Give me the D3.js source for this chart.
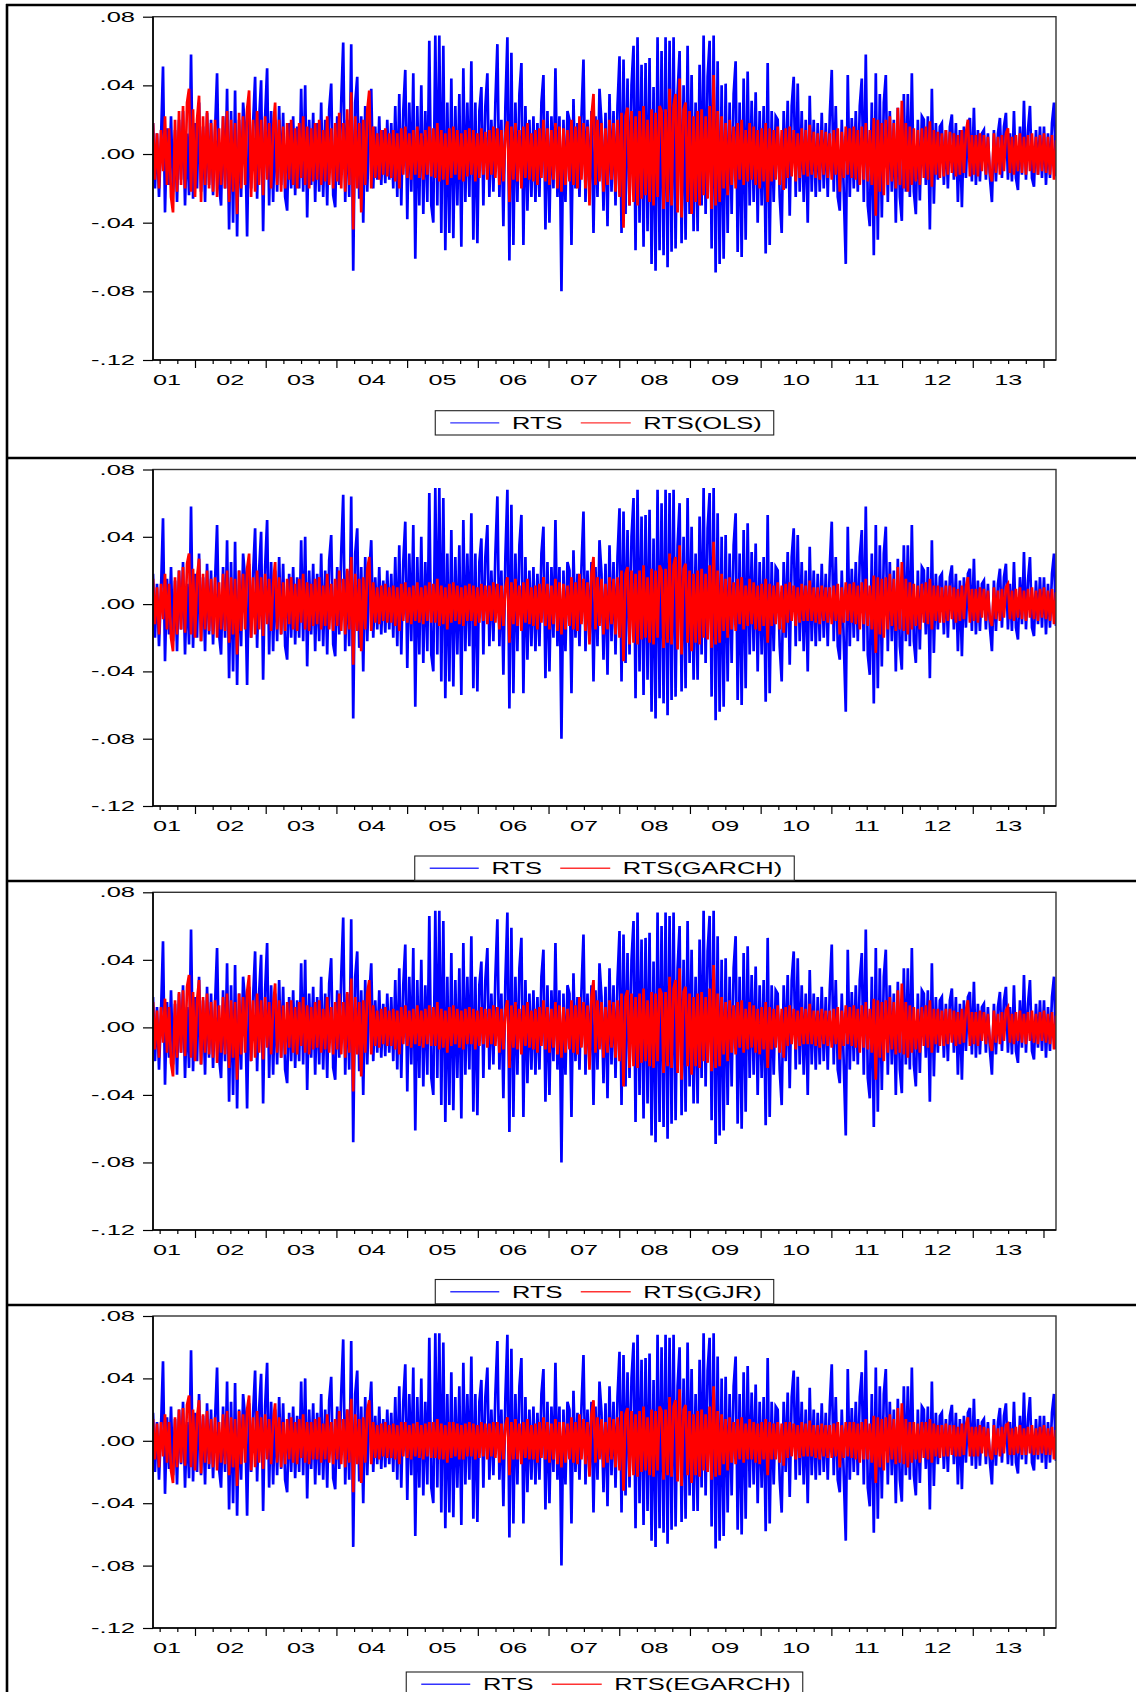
<!DOCTYPE html>
<html><head><meta charset="utf-8">
<script src="https://cdn.jsdelivr.net/npm/d3@7"></script>
<style>body{margin:0;background:#fff}svg{display:block}</style>
</head><body>
<svg id="c" width="1136" height="1692"></svg>
<script>
// Daily RTS returns and fitted series, values in thousandths (0.001)
const RTS = [
18,-20,12,-25,8,51,-34,15,-18,22,
-22,14,-28,20,-15,25,-30,12,-24,58,
-26,18,-20,30,-22,16,-28,24,-18,20,
-24,14,47,-18,-30,22,-20,38,-44,25,
-40,37,-48,20,-25,30,15,-48,24,-20,
18,45,-26,20,43,-45,22,50,-30,25,
-28,20,-22,28,-18,24,-25,-33,18,-20,
22,-24,16,-20,38,-22,40,-37,20,-18,
24,-28,18,-22,30,-25,20,-30,26,41,
-24,-31,22,-18,30,65,-28,20,-25,64,
-68,30,45,-26,22,-40,28,-22,18,38,
-20,16,-15,22,-18,14,-17,20,-15,18,
-20,28,-25,35,-30,25,49,-38,30,-22,
47,-61,28,-30,40,-35,25,-28,66,-30,
-40,69,-30,69,-46,63,-56,30,-46,44,
-49,28,-30,35,-54,50,-28,30,-25,54,
-50,30,-52,25,39,-30,28,47,-25,20,
-22,30,64,-25,20,-42,28,68,-62,59,
-53,30,-28,35,53,-53,28,-33,20,-25,
22,-28,18,-25,30,46,-44,25,-40,22,
-20,50,-25,22,-80,20,-28,25,20,-53,
32,-20,18,-25,22,55,-28,20,-22,25,
-46,22,-25,38,18,-33,24,-42,35,-22,
25,-30,28,57,-46,55,-35,44,-30,40,
63,-56,68,-40,52,-54,53,-45,56,-64,
39,-68,68,-56,60,-59,68,-66,66,-57,
68,-55,35,60,-52,40,-50,63,-35,46,
-45,30,-45,52,-30,69,-35,45,66,-55,
69,-69,54,-64,40,-61,41,-46,30,-35,
35,54,-57,30,-60,44,-50,48,-30,31,
-28,36,-40,25,-30,28,-58,53,-53,25,
-28,22,20,-25,-46,25,-20,31,-36,28,
45,-25,41,-22,25,-28,20,-40,34,-22,
20,-25,18,-22,24,-20,18,-25,22,49,
-22,28,-25,-33,20,-22,-64,46,-25,21,
-20,25,-22,28,44,-28,58,-30,-42,30,
-59,47,-50,35,-37,30,46,-28,25,-22,
20,-40,27,-25,-39,35,-22,35,-25,47,
-22,-35,20,-27,22,20,-18,22,-44,38,
-29,18,-15,16,18,-18,14,-20,16,23,
-15,18,-28,14,-31,16,-14,18,21,-16,
27,-18,14,-16,12,14,-15,12,-14,-28,
14,-16,12,21,-14,16,24,-15,12,-16,
25,-14,-21,16,-12,31,-15,14,28,-14,
-19,14,-12,16,-14,16,-18,12,-14,18,
30,-13];

const RTS_OLS = [
18,-15,12,-20,14,-10,22,-18,15,-25,
-34,20,-22,25,-18,28,-20,30,38,-22,
26,-25,20,34,-28,22,-18,25,-20,18,
-22,20,-25,15,-18,22,-20,25,-28,20,
-22,18,-35,24,-20,22,-18,26,37,-25,
20,-22,25,-18,20,-24,22,-15,18,-20,
15,30,-18,20,-22,16,-20,18,-15,20,
-18,15,-20,18,-14,22,-18,16,-20,15,
-16,18,-15,20,-18,14,-16,22,-18,15,
-20,18,-16,24,-20,18,-22,26,-18,36,
-44,22,-20,18,-34,20,-18,25,37,-20,
16,-14,12,-15,14,-12,15,-13,12,-14,
14,-16,12,-20,15,-12,16,-14,12,-15,
14,-12,16,-14,12,-15,14,-12,16,-13,
15,-14,18,-16,14,-15,12,-18,15,-14,
16,-12,14,-15,12,-16,14,-13,15,-12,
14,-16,12,-14,15,-12,13,-15,14,-12,
16,-14,15,-18,14,-16,12,19,-28,16,
-15,18,-16,14,-20,16,-14,18,-15,12,
-16,14,-18,15,-14,20,-16,15,-18,14,
-15,18,-20,16,-22,15,-18,14,-16,20,
-18,16,-20,22,-15,18,-20,16,-30,22,
35,-18,20,-16,18,-22,15,-18,20,-15,
18,-22,20,-25,24,-43,22,27,-30,25,
-28,22,-30,25,-26,28,-24,20,-28,26,
-30,24,-25,28,25,-32,26,-28,38,-30,
28,35,-34,44,-37,26,30,-28,25,-35,
22,-28,25,-30,26,-24,22,-26,28,-32,
46,-30,25,-28,22,-20,18,-24,20,-18,
16,-20,18,-15,20,-18,14,-16,18,-15,
16,-18,14,-20,15,-16,18,-28,15,-16,
14,-15,16,-18,14,-21,15,-14,16,-13,
14,-16,12,-14,15,-12,14,-13,17,-12,
13,-14,12,-15,14,-12,13,-14,12,-15,
14,-12,15,-22,13,-14,16,-12,15,-14,
16,-15,14,-18,16,-15,18,-16,14,-18,
21,-36,20,-22,18,-24,20,-18,22,-16,
18,-20,27,-18,31,-20,18,-22,16,-18,
15,-16,14,-18,15,-14,16,-15,19,-19,
14,-12,13,-14,12,-13,14,-12,13,-11,
12,-13,11,-12,14,-11,12,20,-13,11,
-12,11,-13,12,-10,11,-12,10,-11,-16,
12,-11,10,-12,11,-10,12,15,-11,10,
-12,11,-10,12,-11,10,-12,11,-10,12,
-11,10,-12,11,-10,12,-11,10,-12,11,
-15,8];

const RTS_GARCH = [
15,-12,10,-18,12,-9,18,-15,12,-20,
-28,16,-18,20,-15,22,-17,24,30,-18,
21,-20,16,27,-22,18,-15,20,-16,15,
-18,16,-20,13,-15,18,-16,20,-23,16,
-18,15,-30,20,-16,18,-15,21,30,-20,
16,-18,20,-15,16,-19,18,-12,15,-16,
12,25,-15,16,-18,13,-16,15,-12,16,
-15,12,-16,15,-11,18,-15,13,-16,12,
-13,15,-12,16,-15,11,-13,18,-15,12,
-16,15,-13,20,-16,15,-18,21,-15,28,
-36,18,-16,15,-28,16,-15,20,28,-16,
13,-11,10,-12,11,-10,12,-11,10,-11,
11,-13,10,-16,12,-10,13,-11,10,-12,
11,-10,13,-11,10,-12,11,-10,13,-11,
12,-11,15,-13,11,-12,10,-15,12,-11,
13,-10,11,-12,10,-13,11,-10,12,-10,
11,-13,10,-11,12,-10,11,-12,11,-10,
13,-11,12,-15,11,-13,10,16,-23,13,
-12,15,-13,11,-16,13,-11,15,-12,10,
-13,11,-15,12,-11,16,-13,12,-15,11,
-12,15,-16,13,-18,12,-15,11,-13,16,
-15,13,-16,18,-12,15,-16,13,-24,18,
28,-15,16,-13,15,-18,12,-15,16,-12,
15,-18,16,-20,20,-34,18,22,-24,20,
-23,18,-24,20,-21,23,-20,16,-23,21,
-24,20,-20,23,20,-26,21,-23,30,-24,
23,28,-27,35,-30,21,24,-23,20,-28,
18,-23,20,-24,21,-20,18,-21,23,-26,
37,-24,20,-23,18,-16,15,-20,16,-15,
13,-16,15,-12,16,-15,11,-13,15,-12,
13,-15,11,-16,12,-13,15,-23,12,-13,
11,-12,13,-15,11,-17,12,-11,13,-10,
11,-13,10,-11,12,-10,11,-10,14,-10,
10,-11,10,-12,11,-10,10,-11,10,-12,
11,-10,12,-18,10,-11,13,-10,12,-11,
13,-12,11,-15,13,-12,15,-13,11,-15,
17,-29,16,-18,15,-20,16,-15,18,-13,
15,-16,22,-15,25,-16,15,-18,13,-15,
12,-13,11,-15,12,-11,13,-12,15,-15,
11,-10,11,-11,10,-11,11,-10,11,-9,
10,-11,9,-10,11,-9,10,16,-11,9,
-10,9,-11,10,-8,9,-10,8,-9,-13,
10,-9,8,-10,9,-8,10,12,-9,8,
-10,9,-8,10,-9,8,-10,9,-8,10,
-9,8,-10,9,-8,10,-9,8,-10,9,
-12,7];

const RTS_GJR = [
15,-13,10,-18,12,-9,17,-15,12,-21,
-29,16,-18,21,-15,22,-17,24,31,-18,
21,-20,16,28,-22,18,-15,20,-16,15,
-18,16,-21,13,-15,18,-16,20,-24,16,
-18,15,-31,20,-16,18,-15,21,31,-20,
16,-18,20,-15,16,-19,18,-12,15,-16,
12,26,-15,16,-18,13,-16,15,-12,16,
-15,12,-16,15,-11,18,-15,13,-16,12,
-13,15,-12,16,-15,11,-13,18,-15,12,
-16,15,-13,20,-16,15,-18,21,-15,29,
-38,18,-16,15,-29,16,-15,20,28,-16,
13,-11,10,-12,11,-10,12,-11,10,-11,
11,-13,10,-16,12,-10,13,-11,10,-12,
11,-10,13,-11,10,-12,11,-10,13,-11,
12,-11,15,-13,11,-12,10,-15,12,-11,
13,-10,11,-12,10,-13,11,-10,12,-10,
11,-13,10,-11,12,-10,11,-12,11,-10,
13,-11,12,-15,11,-13,10,16,-24,13,
-12,15,-13,11,-16,13,-11,15,-12,10,
-13,11,-15,12,-11,16,-13,12,-15,11,
-12,15,-16,13,-18,12,-15,11,-13,16,
-15,13,-16,18,-12,15,-16,13,-25,18,
28,-15,16,-13,15,-18,12,-15,16,-12,
15,-18,16,-20,20,-35,18,22,-24,20,
-23,18,-24,20,-21,23,-20,16,-23,21,
-24,20,-20,23,20,-27,21,-23,30,-24,
23,28,-27,35,-31,21,24,-23,20,-28,
18,-23,20,-24,21,-20,18,-21,23,-26,
37,-24,20,-23,18,-16,15,-20,16,-15,
13,-16,15,-12,16,-15,11,-13,15,-12,
13,-15,11,-16,12,-13,15,-24,12,-13,
11,-12,13,-15,11,-18,12,-11,13,-10,
11,-13,10,-11,12,-10,11,-10,14,-10,
10,-11,10,-12,11,-10,10,-11,10,-12,
11,-10,12,-19,10,-11,13,-10,12,-11,
13,-12,11,-15,13,-12,15,-13,11,-15,
17,-31,16,-18,15,-20,16,-15,18,-13,
15,-16,22,-15,26,-16,15,-18,13,-15,
12,-13,11,-15,12,-11,13,-12,16,-15,
11,-10,11,-11,10,-11,11,-10,11,-9,
10,-11,9,-10,11,-9,10,16,-11,9,
-10,9,-11,10,-8,9,-10,8,-9,-14,
10,-9,8,-10,9,-8,10,12,-9,8,
-10,9,-8,10,-9,8,-10,9,-8,10,
-9,8,-10,9,-8,10,-9,8,-10,9,
-13,7];

const RTS_EGARCH = [
14,-12,11,-17,12,-10,17,-14,12,-19,
-27,15,-17,20,-14,21,-16,23,29,-17,
20,-19,15,26,-21,17,-14,19,-15,14,
-17,15,-19,12,-14,17,-15,19,-22,15,
-17,14,-29,19,-15,17,-14,20,29,-19,
15,-17,19,-14,15,-18,17,-12,14,-15,
12,24,-14,15,-17,12,-15,14,-12,15,
-14,12,-15,14,-11,17,-14,12,-15,12,
-12,14,-12,15,-14,11,-12,17,-14,12,
-15,14,-12,19,-15,14,-17,20,-14,27,
-33,17,-15,14,-27,15,-14,19,26,-15,
12,-11,10,-12,11,-10,12,-11,10,-11,
11,-12,10,-15,12,-10,12,-11,10,-12,
11,-10,12,-11,10,-12,11,-10,12,-11,
12,-11,14,-12,11,-12,10,-14,12,-11,
12,-10,11,-12,10,-12,11,-10,12,-10,
11,-12,10,-11,12,-10,11,-12,11,-10,
12,-11,12,-14,11,-12,10,15,-22,12,
-12,14,-12,11,-15,12,-11,14,-12,10,
-12,11,-14,12,-11,15,-12,12,-14,11,
-12,14,-15,12,-17,12,-14,11,-12,15,
-14,12,-15,17,-12,14,-15,12,-23,17,
26,-14,15,-12,14,-17,12,-14,15,-12,
14,-17,15,-19,19,-32,17,21,-23,19,
-22,17,-23,19,-20,22,-19,15,-22,20,
-23,19,-19,22,19,-25,20,-22,28,-23,
22,26,-26,33,-29,20,23,-22,19,-27,
17,-22,19,-23,20,-19,17,-20,22,-25,
35,-23,19,-22,17,-15,14,-19,15,-14,
12,-15,14,-12,15,-14,11,-12,14,-12,
12,-14,11,-15,12,-12,14,-22,12,-12,
11,-12,12,-14,11,-16,12,-11,12,-10,
11,-12,10,-11,12,-10,11,-10,13,-10,
10,-11,10,-12,11,-10,10,-11,10,-11,
11,-10,12,-17,10,-11,12,-10,12,-11,
12,-12,11,-14,12,-12,14,-12,11,-14,
16,-27,15,-17,14,-19,15,-14,17,-12,
14,-15,21,-14,24,-15,14,-17,12,-14,
12,-12,11,-14,12,-11,12,-12,14,-14,
11,-10,10,-11,10,-10,11,-10,10,-9,
10,-10,9,-10,11,-9,10,15,-10,9,
-10,9,-10,10,-8,9,-10,8,-9,-12,
10,-9,8,-10,9,-8,10,11,-9,8,
-9,9,-8,10,-9,8,-9,9,-8,10,
-9,8,-9,9,-8,10,-9,8,-9,9,
-12,7];

const years = [2001,2002,2003,2004,2005,2006,2007,2008,2009,2010,2011,2012,2013];
const yearLabels = ["01","02","03","04","05","06","07","08","09","10","11","12","13"];
const yTickValues = [80,40,0,-40,-80,-120];
const yTickLabels = [".08",".04",".00","-.04","-.08","-.12"];
const actualName = "RTS";
const fitNames = ["RTS(OLS)","RTS(GARCH)","RTS(GJR)","RTS(EGARCH)"];
const sampleSpan = [2001.406, 2014.177];

const FONT = "'Liberation Sans', Arial, Helvetica, sans-serif";
const svg = d3.select("#c");
const L = 153, R = 1056;
const panels = [
  {fit: RTS_OLS,    name: fitNames[0], top: 16.7,  bottom: 360,  leg: 410.7},
  {fit: RTS_GARCH,  name: fitNames[1], top: 469.5, bottom: 806,  leg: 856},
  {fit: RTS_GJR,    name: fitNames[2], top: 892.3, bottom: 1230, leg: 1279.5},
  {fit: RTS_EGARCH, name: fitNames[3], top: 1316,  bottom: 1628, leg: 1672}
];

svg.append("rect").attr("width",1136).attr("height",1692).attr("fill","#fff");

const xObs = d3.scaleLinear().domain([0, RTS.length-1]).range([L, R]);
const xYear = d3.scaleLinear().domain(sampleSpan).range([L, R]);
const quarterTicks = [];
for (let y = 2001; y <= 2014; y++) for (let q = 0; q < 4; q++) {
  const t = y + q/4;
  if (t >= sampleSpan[0] && t <= sampleSpan[1]) quarterTicks.push(t);
}

// outer frame
const frame = svg.append("g").attr("stroke","#000").attr("stroke-width",2.6);
frame.append("line").attr("x1",6).attr("x2",1136).attr("y1",5).attr("y2",5);
frame.append("line").attr("x1",7).attr("x2",7).attr("y1",4).attr("y2",1692);
[458, 881, 1305].forEach(y => frame.append("line").attr("x1",6).attr("x2",1136).attr("y1",y).attr("y2",y));

panels.forEach((p, pi) => {
  const g = svg.append("g");
  const y = d3.scaleLinear().domain([-120, 80]).range([p.bottom, p.top]);

  const clipId = "clip" + pi;
  svg.append("clipPath").attr("id", clipId).append("rect")
    .attr("x", L).attr("y", p.top).attr("width", R-L).attr("height", p.bottom-p.top);

  const line = d3.line().x((d,i) => xObs(i)).y(d => y(d));
  const lines = g.append("g").attr("clip-path", `url(#${clipId})`);
  lines.append("path").datum(RTS).attr("d", line)
    .attr("fill","none").attr("stroke","#0000ff").attr("stroke-width",2.7);
  lines.append("path").datum(p.fit).attr("d", line)
    .attr("fill","none").attr("stroke","#ff0000").attr("stroke-width",2.7);

  // plot frame
  g.append("rect").attr("x",L).attr("y",p.top).attr("width",R-L).attr("height",p.bottom-p.top)
    .attr("fill","none").attr("stroke","#333").attr("stroke-width",1.4);
  g.append("line").attr("x1",L).attr("x2",L).attr("y1",p.top).attr("y2",p.bottom)
    .attr("stroke","#000").attr("stroke-width",1.6);
  g.append("line").attr("x1",L).attr("x2",R).attr("y1",p.bottom).attr("y2",p.bottom)
    .attr("stroke","#000").attr("stroke-width",1.6);

  // y axis
  const ya = g.append("g").attr("transform",`translate(${L},0)`)
    .call(d3.axisLeft(y).tickValues(yTickValues).tickSize(10)
      .tickFormat(d => yTickLabels[yTickValues.indexOf(d)]));
  ya.select(".domain").remove();
  ya.selectAll(".tick line").attr("stroke","#000").attr("stroke-width",1.2);
  ya.selectAll(".tick text").attr("x",0).attr("dy","0.3em")
    .attr("transform","translate(-18,0) scale(1.7,1)")
    .attr("font-family",FONT).attr("font-size",15).attr("fill","#000");

  // x axis
  const xa = g.append("g").attr("transform",`translate(0,${p.bottom})`)
    .call(d3.axisBottom(xYear).tickValues(quarterTicks).tickSize(4).tickFormat(""));
  xa.select(".domain").remove();
  xa.selectAll(".tick line").attr("stroke","#000").attr("stroke-width",1.2)
    .attr("y2", d => Number.isInteger(d) ? 8 : 4);
  xa.selectAll(".tick text").remove();

  const sx = 1.8;
  years.forEach((yr, i) => {
    const t = g.append("text").text(yearLabels[i])
      .attr("font-family",FONT).attr("font-size",14).attr("fill","#000")
      .attr("text-anchor","middle");
    const w = t.node().getComputedTextLength() * sx;
    let cx = xYear(yr + 0.5);
    if (cx - w/2 < L) cx = L + w/2;
    t.attr("transform",`translate(${cx},${p.bottom + 24.5}) scale(${sx},1)`);
  });

  // legend
  const ls = 1.5;
  const lg = g.append("g");
  const box = lg.append("rect").attr("fill","#fff").attr("stroke","#222").attr("stroke-width",1.1);
  const cy = p.leg + 12.2;
  const items = [[actualName, "#3333ff", 15, 64, 76.7], [p.name, "#ff3333", 145.5, 195.5, 208]];
  let rightEnd = 0;
  items.forEach(([txt, col, a, b, tx]) => {
    lg.append("line").attr("x1",a).attr("x2",b).attr("y1",cy).attr("y2",cy)
      .attr("stroke",col).attr("stroke-width",1.4);
    const t = lg.append("text").text(txt).attr("font-family",FONT).attr("font-size",17)
      .attr("fill","#000").attr("transform",`translate(${tx},${cy+6}) scale(${ls},1)`);
    rightEnd = tx + t.node().getComputedTextLength() * ls;
  });
  const bw = rightEnd + 12;
  box.attr("x",0).attr("y",p.leg).attr("width",bw).attr("height",24.3);
  lg.attr("transform",`translate(${(L+R)/2 - bw/2},0)`);
});
</script>
</body></html>
